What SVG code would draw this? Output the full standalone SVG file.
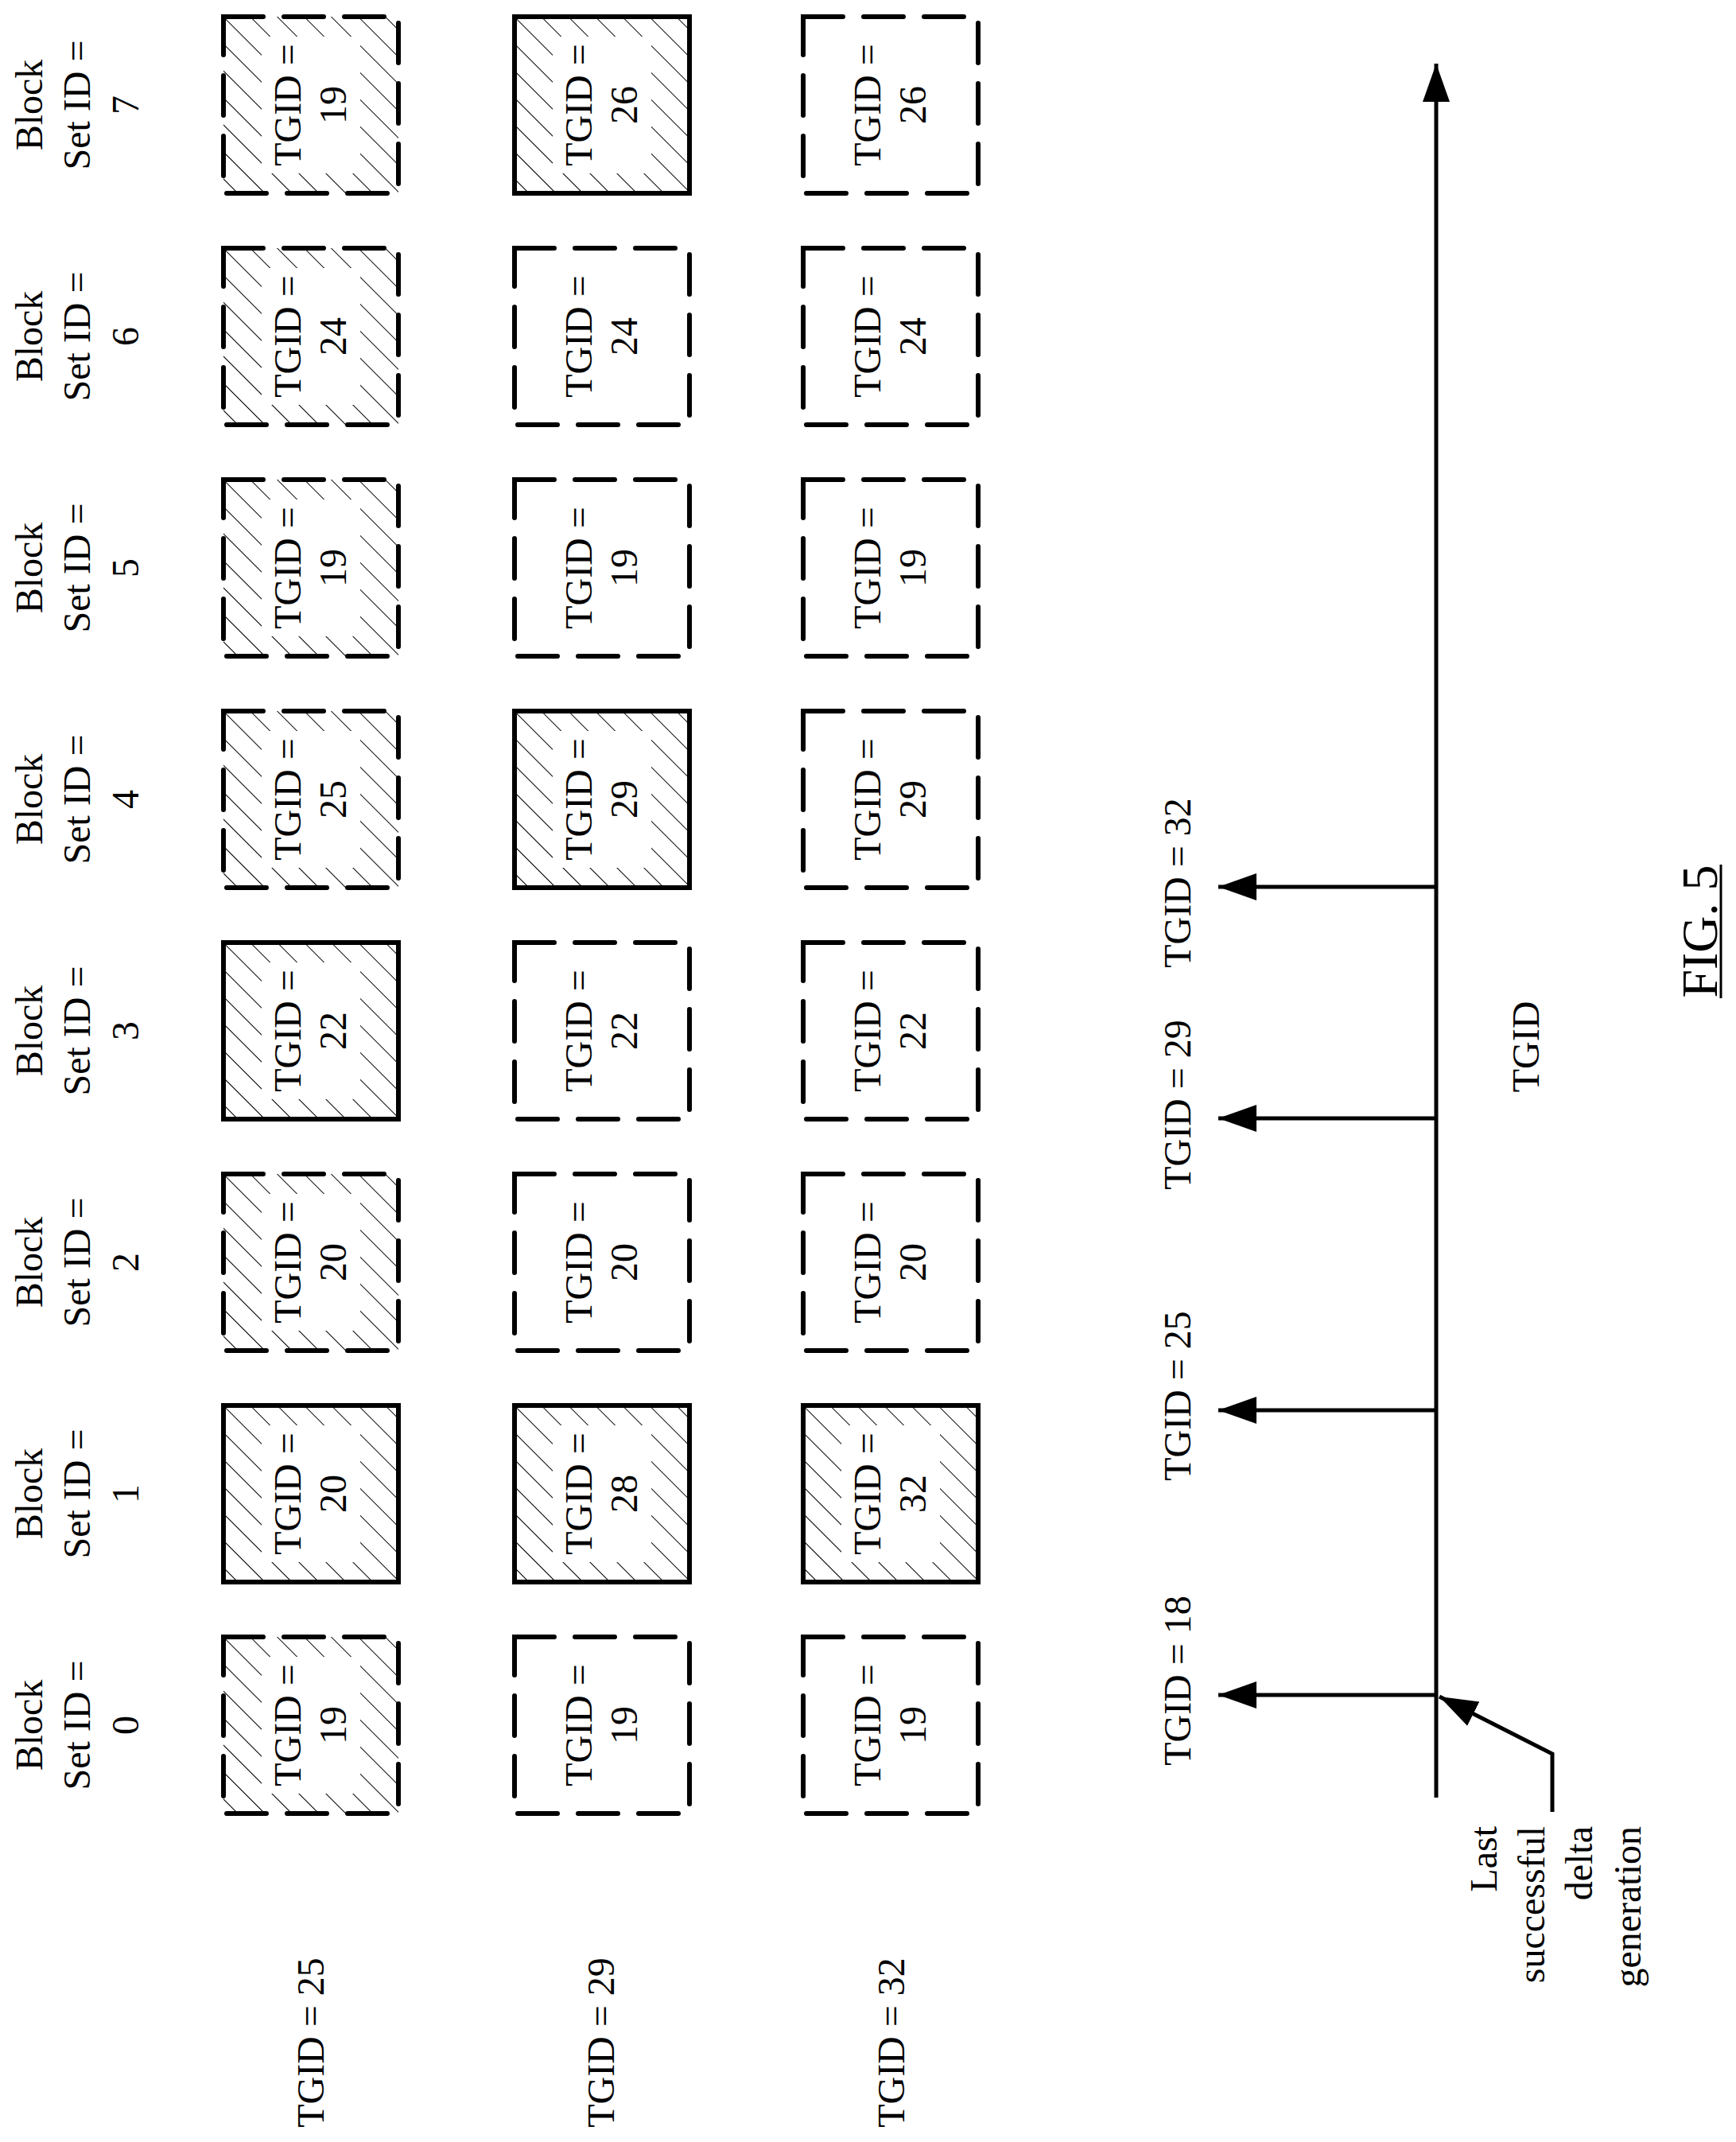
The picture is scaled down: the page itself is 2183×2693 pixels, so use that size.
<svg xmlns="http://www.w3.org/2000/svg" width="2183" height="2693" viewBox="0 0 2183 2693">
<style>
text{font-family:"Liberation Serif","Times New Roman",serif;font-size:48px;fill:#000;text-anchor:middle;dominant-baseline:central}
.box{fill:none;stroke:#000;stroke-width:6}
.dash{stroke-dasharray:50 26;stroke-linecap:round}
.hat{fill:url(#hatch);stroke:none}
.wb{fill:#fff}
.ln{stroke:#000;stroke-width:5;fill:none}
</style>
<defs>
<pattern id="hatch" patternUnits="userSpaceOnUse" width="24" height="24" patternTransform="rotate(-45)">
<line x1="0" y1="0" x2="0" y2="24" stroke="#000" stroke-width="2"/>
</pattern>
<marker id="ah" markerUnits="userSpaceOnUse" markerWidth="50" markerHeight="36" refX="48" refY="17" orient="auto">
<path d="M0,0 L48,17 L0,34 Z" fill="#000"/>
</marker>
</defs>
<g id="headers">
<g transform="translate(0,2169)"><text transform="translate(36,0) rotate(-90)">Block</text><text transform="translate(96,0) rotate(-90)">Set ID =</text><text transform="translate(157,0) rotate(-90)">0</text></g>
<g transform="translate(0,1878)"><text transform="translate(36,0) rotate(-90)">Block</text><text transform="translate(96,0) rotate(-90)">Set ID =</text><text transform="translate(157,0) rotate(-90)">1</text></g>
<g transform="translate(0,1587)"><text transform="translate(36,0) rotate(-90)">Block</text><text transform="translate(96,0) rotate(-90)">Set ID =</text><text transform="translate(157,0) rotate(-90)">2</text></g>
<g transform="translate(0,1296)"><text transform="translate(36,0) rotate(-90)">Block</text><text transform="translate(96,0) rotate(-90)">Set ID =</text><text transform="translate(157,0) rotate(-90)">3</text></g>
<g transform="translate(0,1005)"><text transform="translate(36,0) rotate(-90)">Block</text><text transform="translate(96,0) rotate(-90)">Set ID =</text><text transform="translate(157,0) rotate(-90)">4</text></g>
<g transform="translate(0,714)"><text transform="translate(36,0) rotate(-90)">Block</text><text transform="translate(96,0) rotate(-90)">Set ID =</text><text transform="translate(157,0) rotate(-90)">5</text></g>
<g transform="translate(0,423)"><text transform="translate(36,0) rotate(-90)">Block</text><text transform="translate(96,0) rotate(-90)">Set ID =</text><text transform="translate(157,0) rotate(-90)">6</text></g>
<g transform="translate(0,132)"><text transform="translate(36,0) rotate(-90)">Block</text><text transform="translate(96,0) rotate(-90)">Set ID =</text><text transform="translate(157,0) rotate(-90)">7</text></g>
</g>
<g id="rowlabels">
<text transform="translate(390,2568) rotate(-90)">TGID = 25</text>
<text transform="translate(755,2568) rotate(-90)">TGID = 29</text>
<text transform="translate(1120,2568) rotate(-90)">TGID = 32</text>
</g>
<g id="b0-25" transform="translate(391,2169)"><rect class="hat" x="-110" y="-111" width="220" height="222"/><rect class="wb" x="-62" y="-86" width="124" height="172"/><rect class="box dash" x="-110" y="-111" width="220" height="222"/><text transform="rotate(-90)" y="-30">TGID =</text><text transform="rotate(-90)" y="27">19</text></g>
<g id="b0-29" transform="translate(757,2169)"><rect class="box dash" x="-110" y="-111" width="220" height="222"/><text transform="rotate(-90)" y="-30">TGID =</text><text transform="rotate(-90)" y="27">19</text></g>
<g id="b0-32" transform="translate(1120,2169)"><rect class="box dash" x="-110" y="-111" width="220" height="222"/><text transform="rotate(-90)" y="-30">TGID =</text><text transform="rotate(-90)" y="27">19</text></g>

<g id="b1-25" transform="translate(391,1878)"><rect class="hat" x="-110" y="-111" width="220" height="222"/><rect class="wb" x="-62" y="-86" width="124" height="172"/><rect class="box" x="-110" y="-111" width="220" height="222"/><text transform="rotate(-90)" y="-30">TGID =</text><text transform="rotate(-90)" y="27">20</text></g>
<g id="b1-29" transform="translate(757,1878)"><rect class="hat" x="-110" y="-111" width="220" height="222"/><rect class="wb" x="-62" y="-86" width="124" height="172"/><rect class="box" x="-110" y="-111" width="220" height="222"/><text transform="rotate(-90)" y="-30">TGID =</text><text transform="rotate(-90)" y="27">28</text></g>
<g id="b1-32" transform="translate(1120,1878)"><rect class="hat" x="-110" y="-111" width="220" height="222"/><rect class="wb" x="-62" y="-86" width="124" height="172"/><rect class="box" x="-110" y="-111" width="220" height="222"/><text transform="rotate(-90)" y="-30">TGID =</text><text transform="rotate(-90)" y="27">32</text></g>

<g id="b2-25" transform="translate(391,1587)"><rect class="hat" x="-110" y="-111" width="220" height="222"/><rect class="wb" x="-62" y="-86" width="124" height="172"/><rect class="box dash" x="-110" y="-111" width="220" height="222"/><text transform="rotate(-90)" y="-30">TGID =</text><text transform="rotate(-90)" y="27">20</text></g>
<g id="b2-29" transform="translate(757,1587)"><rect class="box dash" x="-110" y="-111" width="220" height="222"/><text transform="rotate(-90)" y="-30">TGID =</text><text transform="rotate(-90)" y="27">20</text></g>
<g id="b2-32" transform="translate(1120,1587)"><rect class="box dash" x="-110" y="-111" width="220" height="222"/><text transform="rotate(-90)" y="-30">TGID =</text><text transform="rotate(-90)" y="27">20</text></g>

<g id="b3-25" transform="translate(391,1296)"><rect class="hat" x="-110" y="-111" width="220" height="222"/><rect class="wb" x="-62" y="-86" width="124" height="172"/><rect class="box" x="-110" y="-111" width="220" height="222"/><text transform="rotate(-90)" y="-30">TGID =</text><text transform="rotate(-90)" y="27">22</text></g>
<g id="b3-29" transform="translate(757,1296)"><rect class="box dash" x="-110" y="-111" width="220" height="222"/><text transform="rotate(-90)" y="-30">TGID =</text><text transform="rotate(-90)" y="27">22</text></g>
<g id="b3-32" transform="translate(1120,1296)"><rect class="box dash" x="-110" y="-111" width="220" height="222"/><text transform="rotate(-90)" y="-30">TGID =</text><text transform="rotate(-90)" y="27">22</text></g>

<g id="b4-25" transform="translate(391,1005)"><rect class="hat" x="-110" y="-111" width="220" height="222"/><rect class="wb" x="-62" y="-86" width="124" height="172"/><rect class="box dash" x="-110" y="-111" width="220" height="222"/><text transform="rotate(-90)" y="-30">TGID =</text><text transform="rotate(-90)" y="27">25</text></g>
<g id="b4-29" transform="translate(757,1005)"><rect class="hat" x="-110" y="-111" width="220" height="222"/><rect class="wb" x="-62" y="-86" width="124" height="172"/><rect class="box" x="-110" y="-111" width="220" height="222"/><text transform="rotate(-90)" y="-30">TGID =</text><text transform="rotate(-90)" y="27">29</text></g>
<g id="b4-32" transform="translate(1120,1005)"><rect class="box dash" x="-110" y="-111" width="220" height="222"/><text transform="rotate(-90)" y="-30">TGID =</text><text transform="rotate(-90)" y="27">29</text></g>

<g id="b5-25" transform="translate(391,714)"><rect class="hat" x="-110" y="-111" width="220" height="222"/><rect class="wb" x="-62" y="-86" width="124" height="172"/><rect class="box dash" x="-110" y="-111" width="220" height="222"/><text transform="rotate(-90)" y="-30">TGID =</text><text transform="rotate(-90)" y="27">19</text></g>
<g id="b5-29" transform="translate(757,714)"><rect class="box dash" x="-110" y="-111" width="220" height="222"/><text transform="rotate(-90)" y="-30">TGID =</text><text transform="rotate(-90)" y="27">19</text></g>
<g id="b5-32" transform="translate(1120,714)"><rect class="box dash" x="-110" y="-111" width="220" height="222"/><text transform="rotate(-90)" y="-30">TGID =</text><text transform="rotate(-90)" y="27">19</text></g>

<g id="b6-25" transform="translate(391,423)"><rect class="hat" x="-110" y="-111" width="220" height="222"/><rect class="wb" x="-62" y="-86" width="124" height="172"/><rect class="box dash" x="-110" y="-111" width="220" height="222"/><text transform="rotate(-90)" y="-30">TGID =</text><text transform="rotate(-90)" y="27">24</text></g>
<g id="b6-29" transform="translate(757,423)"><rect class="box dash" x="-110" y="-111" width="220" height="222"/><text transform="rotate(-90)" y="-30">TGID =</text><text transform="rotate(-90)" y="27">24</text></g>
<g id="b6-32" transform="translate(1120,423)"><rect class="box dash" x="-110" y="-111" width="220" height="222"/><text transform="rotate(-90)" y="-30">TGID =</text><text transform="rotate(-90)" y="27">24</text></g>

<g id="b7-25" transform="translate(391,132)"><rect class="hat" x="-110" y="-111" width="220" height="222"/><rect class="wb" x="-62" y="-86" width="124" height="172"/><rect class="box dash" x="-110" y="-111" width="220" height="222"/><text transform="rotate(-90)" y="-30">TGID =</text><text transform="rotate(-90)" y="27">19</text></g>
<g id="b7-29" transform="translate(757,132)"><rect class="hat" x="-110" y="-111" width="220" height="222"/><rect class="wb" x="-62" y="-86" width="124" height="172"/><rect class="box" x="-110" y="-111" width="220" height="222"/><text transform="rotate(-90)" y="-30">TGID =</text><text transform="rotate(-90)" y="27">26</text></g>
<g id="b7-32" transform="translate(1120,132)"><rect class="box dash" x="-110" y="-111" width="220" height="222"/><text transform="rotate(-90)" y="-30">TGID =</text><text transform="rotate(-90)" y="27">26</text></g>

<g id="connectors">
<line class="ln" x1="1806" y1="2260" x2="1806" y2="80" stroke-width="6" marker-end="url(#ah)"/>
<line class="ln" x1="1806" y1="1115" x2="1532" y2="1115" marker-end="url(#ah)"/>
<line class="ln" x1="1806" y1="1406" x2="1532" y2="1406" marker-end="url(#ah)"/>
<line class="ln" x1="1806" y1="1773" x2="1532" y2="1773" marker-end="url(#ah)"/>
<line class="ln" x1="1806" y1="2131" x2="1532" y2="2131" marker-end="url(#ah)"/>
<polyline class="ln" points="1952,2278 1952,2205 1810,2133" stroke-width="6" marker-end="url(#ah)"/>
</g>
<g id="axislabels">
<text transform="translate(1480,1110) rotate(-90)">TGID = 32</text>
<text transform="translate(1480,1389) rotate(-90)">TGID = 29</text>
<text transform="translate(1480,1755) rotate(-90)">TGID = 25</text>
<text transform="translate(1480,2113) rotate(-90)">TGID = 18</text>
<text transform="translate(1918,1316) rotate(-90)">TGID</text>
</g>
<g id="note">
<text style="text-anchor:end" transform="translate(1865,2296) rotate(-90)">Last</text>
<text style="text-anchor:end" transform="translate(1925,2296) rotate(-90)">successful</text>
<text style="text-anchor:end" transform="translate(1985,2296) rotate(-90)">delta</text>
<text style="text-anchor:end" transform="translate(2046,2296) rotate(-90)">generation</text>
</g>
<g id="title">
<text style="font-size:64px" transform="translate(2137,1171) rotate(-90)">FIG. 5</text>
<line x1="2164" y1="1087" x2="2164" y2="1255" stroke="#000" stroke-width="3"/>
</g>
</svg>
